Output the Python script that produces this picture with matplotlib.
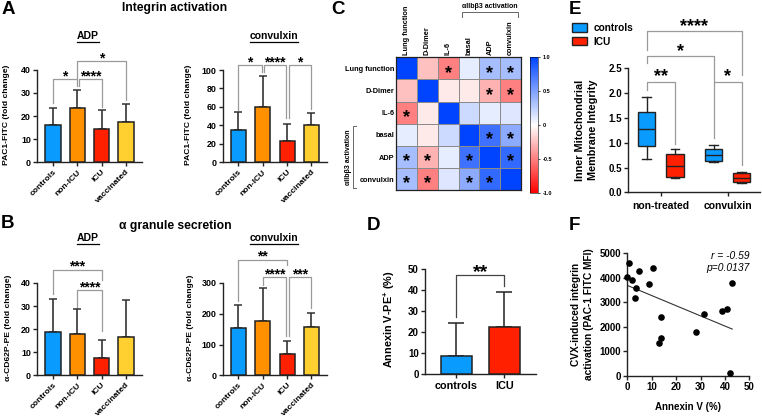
import numpy as np
import matplotlib
matplotlib.use('Agg')
import matplotlib.pyplot as plt
from matplotlib.colors import LinearSegmentedColormap
from matplotlib.lines import Line2D
from matplotlib.patches import Patch

plt.rcParams['font.family'] = ['Liberation Sans', 'DejaVu Sans']
plt.rcParams['font.weight'] = 'bold'
plt.rcParams['axes.labelweight'] = 'bold'
plt.rcParams['mathtext.fontset'] = 'custom'
plt.rcParams['mathtext.bf'] = 'Liberation Sans:bold'

W, H = 762, 418

# group bar data
groups = ['controls', 'non-ICU', 'ICU', 'vaccinated']
group_colors = ['#0a9bff', '#ff9000', '#ff2000', '#ffd030']

a_adp_mean = [16.1, 23.5, 14.2, 17.2]
a_adp_sd = [7.2, 7.9, 8.4, 8.1]
a_cvx_mean = [35.5, 60.2, 23.5, 40.0]
a_cvx_sd = [18.8, 33.8, 18.0, 13.2]
b_adp_mean = [18.9, 18.1, 7.4, 16.8]
b_adp_sd = [14.3, 10.6, 7.9, 16.0]
b_cvx_mean = [153, 176, 69, 156]
b_cvx_sd = [74, 107, 43, 47]

# brackets: x1, x2, top, left leg end, right leg end, stars
a_adp_br = [(0, 0.97, 35.8, 25.5, 33, '*'),
            (1.07, 2, 35.8, 33, 24, '****'),
            (1, 3, 43.6, 36, 27, '*')]
a_cvx_br = [(0, 0.97, 105.4, 56.7, 98, '*'),
            (1.05, 1.95, 105.4, 98, 47.6, '****'),
            (2.07, 3, 105.4, 47.6, 57.5, '*')]
b_adp_br = [(0, 2, 45.8, 35.2, 41.4, '***'),
            (1, 2, 36.8, 29.2, 19, '****')]
b_cvx_br = [(0, 2, 376, 240, 360, '**'),
            (1, 1.95, 318, 292, 127, '****'),
            (2.07, 3, 318, 127, 219, '***')]

# correlation matrix
corr_labels = ['Lung function', 'D-Dimer', 'IL-6', 'basal', 'ADP', 'convulxin']
corr = [[1, -.25, -.5, .1, .35, .35],
        [-.25, 1, -.08, -.08, -.3, -.5],
        [-.5, -.08, 1, .2, .1, .13],
        [.1, -.08, .2, 1, .75, .45],
        [.35, -.3, .1, .75, 1, .8],
        [.35, -.5, .13, .45, .8, 1]]
corr_stars = [(0, 2), (0, 4), (0, 5), (1, 4), (1, 5), (2, 0), (3, 4), (3, 5),
              (4, 0), (4, 1), (4, 3), (4, 5), (5, 0), (5, 1), (5, 3), (5, 4)]

# panel D
d_labels = ['controls', 'ICU']
d_mean = [8.5, 22.5]
d_sd = [16, 16.5]

# panel E boxes: whisker low, q1, median, q3, whisker high
e_labels = ['non-treated', 'convulxin']
e_boxes = [(.68, .94, 1.27, 1.62, 1.93),
           (.28, .31, .53, .77, .87),
           (.62, .64, .75, .88, .96),
           (.18, .20, .28, .38, .40)]
e_colors = ['#0a9bff', '#ff2000', '#0a9bff', '#ff2000']

# panel F
f_x = [.5, 0, 1.9, 4.6, 10.4, 8.8, 3.7, 3.3, 14, 13.9, 12.8, 28.3, 31.3, 38.8, 41, 42.9, 42.1]
f_y = [4580, 4010, 3900, 4270, 4390, 3720, 3560, 3170, 2390, 1520, 1320, 1790, 2530, 2620, 2700, 3780, 110]
f_fit_x = [0, 43]
f_fit_y = [3680, 1900]

GREY = '#9a9a9a'
DARK = '#222222'

fig = plt.figure(figsize=(W / 100, H / 100), dpi=100)


def px_axes(left, top, right, bottom):
    ax = fig.add_axes([left / W, 1 - bottom / H, (right - left) / W, (bottom - top) / H])
    ax.patch.set_alpha(0)
    return ax


def px_text(x, y, s, **kw):
    kw.setdefault('ha', 'center')
    kw.setdefault('va', 'center')
    kw.setdefault('fontweight', 'bold')
    return fig.text(x / W, 1 - y / H, s, **kw)


def style_axis(ax, size=6.4):
    for side in ['top', 'right']:
        ax.spines[side].set_visible(False)
    for side in ['left', 'bottom']:
        ax.spines[side].set_linewidth(1.0)
        ax.spines[side].set_color(DARK)
    ax.tick_params(width=1.0, length=3, labelsize=size, pad=1.5, color=DARK)


def underlined(x, y, s):
    t = px_text(x, y, s, fontsize=7.5)
    box = t.get_window_extent(fig.canvas.get_renderer())
    yy = 1 - (y + 6) / H
    fig.add_artist(Line2D([box.x0 / W, box.x1 / W], [yy, yy], color='black', lw=0.9))


def bar_panel(left, top, bottom, means, sds, ymax, ticks, brackets, ylabel, label_x, label_y):
    right = left + 104.4
    ax = px_axes(left, top, right, bottom)
    x = np.arange(len(groups))
    ax.bar(x, means, width=0.62, color=group_colors, edgecolor=DARK, linewidth=1.1, zorder=3)
    ax.errorbar(x, means, yerr=[np.zeros(len(sds)), sds], fmt='none', ecolor='#333333',
                elinewidth=1.2, capsize=3.2, capthick=1.1, zorder=2)
    ax.set_xlim(-0.645, 3.645)
    ax.set_ylim(0, ymax)
    ax.set_yticks(ticks)
    ax.set_xticks(x)
    ax.set_xticklabels(groups, rotation=45, ha='right', rotation_mode='anchor', fontsize=6.1)
    style_axis(ax)
    ax.tick_params(axis='x', labelsize=6.1)
    for x1, x2, y, y1, y2, stars in brackets:
        ax.plot([x1, x1, x2, x2], [y1, y, y, y2], color=GREY, lw=0.9, clip_on=False, zorder=1)
        ax.text((x1 + x2) / 2, y + ymax * 0.03, stars, ha='center', va='center', fontsize=10,
                fontweight='bold', clip_on=False)
    px_text(label_x, label_y, ylabel, rotation=90, fontsize=6.1)
    return ax


# panel A and B
px_text(175, 8, 'Integrin activation', fontsize=8.7)
px_text(175, 226, 'α granule secretion', fontsize=8.7)
px_text(8, 10, 'A', fontsize=13.5)
px_text(7, 224, 'B', fontsize=13.5)
px_text(338, 10, 'C', fontsize=13.5)
px_text(575, 10, 'E', fontsize=13.5)
px_text(373, 225, 'D', fontsize=13.5)
px_text(574, 225, 'F', fontsize=13.5)

underlined(88, 36, 'ADP')
underlined(274, 36, 'convulxin')
underlined(88, 238, 'ADP')
underlined(274, 238, 'convulxin')

bar_panel(37.3, 69.7, 162.3, a_adp_mean, a_adp_sd, 40, [0, 10, 20, 30, 40], a_adp_br,
          'PAC1-FITC (fold change)', 6.5, 115)
bar_panel(222.7, 70, 162.3, a_cvx_mean, a_cvx_sd, 100, [0, 20, 40, 60, 80, 100], a_cvx_br,
          'PAC1-FITC (fold change)', 189, 115)
bar_panel(37.3, 283, 375.3, b_adp_mean, b_adp_sd, 40, [0, 10, 20, 30, 40], b_adp_br,
          'α-CD62P-PE (fold change)', 8.5, 328)
bar_panel(222.7, 283, 375.3, b_cvx_mean, b_cvx_sd, 300, [0, 100, 200, 300], b_cvx_br,
          'α-CD62P-PE (fold change)', 190.5, 328)

# panel C
cmap = LinearSegmentedColormap.from_list('rwb', ['#ff0000', '#ffffff', '#0044ff'])
ax = px_axes(396.3, 57.3, 521, 190.3)
mesh = ax.pcolormesh(np.array(corr), cmap=cmap, vmin=-1, vmax=1, edgecolors='#8a8a8a', linewidth=0.5)
ax.invert_yaxis()
ax.set_xticks(np.arange(6) + .5)
ax.set_yticks(np.arange(6) + .5)
ax.set_xticklabels(corr_labels, rotation=90, fontsize=5.3)
ax.set_yticklabels(corr_labels, fontsize=5.3)
ax.xaxis.tick_top()
ax.tick_params(length=0, pad=1.5)
for spine in ax.spines.values():
    spine.set_linewidth(0.9)
    spine.set_color(DARK)
for r, c in corr_stars:
    ax.text(c + .5, r + .72, '*', ha='center', va='center', fontsize=13, color='black')

cax = px_axes(530, 57.3, 538.3, 193)
cb = fig.colorbar(mesh, cax=cax, ticks=[-1, -.5, 0, .5, 1])
cb.ax.set_yticklabels(['-1.0', '-0.5', '0', '0.5', '1.0'], fontsize=4)
cb.ax.tick_params(length=1.5, width=0.5, pad=1.5)
cb.outline.set_linewidth(0.4)

px_text(490, 7, 'αIIbβ3 activation', fontsize=5)
fig.add_artist(Line2D(np.array([462, 462, 518, 518]) / W, 1 - np.array([17, 12, 12, 17]) / H,
                      color='#666666', lw=0.7))
px_text(348, 157, 'αIIbβ3 activation', fontsize=5, rotation=90)
fig.add_artist(Line2D(np.array([356, 353, 353, 356]) / W, 1 - np.array([126, 126, 188, 188]) / H,
                      color='#666666', lw=0.7))

# panel D
ax = px_axes(425, 269, 535.7, 374.3)
ax.bar([0, 1], d_mean, width=0.645, color=[group_colors[0], group_colors[2]],
       edgecolor=DARK, linewidth=1.1, zorder=3)
ax.errorbar([0, 1], d_mean, yerr=[[0, 0], d_sd], fmt='none', ecolor='#222222',
            elinewidth=1.1, capsize=6, capthick=1.1, zorder=2)
ax.set_xlim(-0.657, 1.66)
ax.set_ylim(0, 50)
ax.set_yticks([0, 10, 20, 30, 40, 50])
ax.set_xticks([0, 1])
ax.set_xticklabels(d_labels, fontsize=7.8)
style_axis(ax, 7)
ax.tick_params(axis='x', labelsize=7.8)
ax.plot([0, 0, 1, 1], [27, 47.2, 47.2, 42], color='#444444', lw=0.9, clip_on=False)
ax.text(.5, 48.5, '**', ha='center', va='center', fontsize=14, fontweight='bold', clip_on=False)
px_text(389, 319, 'Annexin V-PE$\\mathbf{^{+}}$ (%)', rotation=90, fontsize=7.8)

# panel E
ax = px_axes(628.3, 68.3, 760, 192.3)
positions = [646.7, 675, 713.7, 741.7]
stats = [dict(whislo=b[0], q1=b[1], med=b[2], q3=b[3], whishi=b[4], fliers=[]) for b in e_boxes]
bp = ax.bxp(stats, positions=positions, widths=17.3, patch_artist=True, showfliers=False,
            boxprops=dict(linewidth=1.0, edgecolor=DARK),
            medianprops=dict(color=DARK, linewidth=1.0),
            whiskerprops=dict(color=DARK, linewidth=1.0),
            capprops=dict(color=DARK, linewidth=1.0), manage_ticks=False)
for box, col in zip(bp['boxes'], e_colors):
    box.set_facecolor(col)
ax.set_xlim(628.3, 760)
ax.set_ylim(0, 2.5)
ax.set_yticks([0, .5, 1, 1.5, 2, 2.5])
ax.set_yticklabels(['0.0', '0.5', '1.0', '1.5', '2.0', '2.5'])
ax.set_xticks([660.5, 727.5])
ax.set_xticklabels(e_labels, fontsize=7.5)
style_axis(ax, 7)
ax.tick_params(axis='x', labelsize=7.5, pad=3)
for x1, x2, y, y1, y2, stars, sy in [(646.7, 675, 2.22, 2.07, .98, '**', 2.33),
                                     (713.7, 741.7, 2.22, 1.1, .55, '*', 2.33),
                                     (646.7, 713.7, 2.75, 2.6, 2.22, '*', 2.83),
                                     (646.7, 741.7, 3.25, 2.87, 2.37, '****', 3.35)]:
    ax.plot([x1, x1, x2, x2], [y1, y, y, y2], color=GREY, lw=0.9, clip_on=False)
    ax.text((x1 + x2) / 2, sy, stars, ha='center', va='center', fontsize=13,
            fontweight='bold', clip_on=False)
ax.legend(handles=[Patch(facecolor=group_colors[0], edgecolor=DARK, label='controls'),
                   Patch(facecolor=group_colors[2], edgecolor=DARK, label='ICU')],
          loc='upper left', bbox_to_anchor=(571.5 / W, 1 - 23 / H), bbox_transform=fig.transFigure,
          frameon=False, fontsize=7.3, handlelength=1.5, handleheight=0.9, borderpad=0,
          borderaxespad=0, labelspacing=0.35, handletextpad=0.7)
px_text(580, 130, 'Inner Mitochondrial', rotation=90, fontsize=7.8)
px_text(592.5, 130, 'Membrane Integrity', rotation=90, fontsize=7.8)

# panel F
ax = px_axes(627.3, 253, 749.3, 375.7)
ax.scatter(f_x, f_y, s=14, color='black', clip_on=False, zorder=3)
ax.plot(f_fit_x, f_fit_y, color='#333333', lw=0.8)
ax.set_xlim(0, 50)
ax.set_ylim(0, 5000)
ax.set_xticks([0, 10, 20, 30, 40, 50])
ax.set_yticks([0, 1000, 2000, 3000, 4000, 5000])
style_axis(ax, 7)
ax.set_xlabel('Annexin V (%)', fontsize=7, labelpad=7)
ax.text(50, 4890, 'r = -0.59', ha='right', va='center', fontsize=7.4, style='italic', fontweight='normal')
ax.text(50, 4400, 'p=0.0137', ha='right', va='center', fontsize=7.4, style='italic', fontweight='normal')
px_text(576, 314, 'CVX-induced integrin', rotation=90, fontsize=7.3)
px_text(589, 314, 'activation (PAC-1 FITC MFI)', rotation=90, fontsize=7.3)

fig.savefig('out.png', dpi=100)
